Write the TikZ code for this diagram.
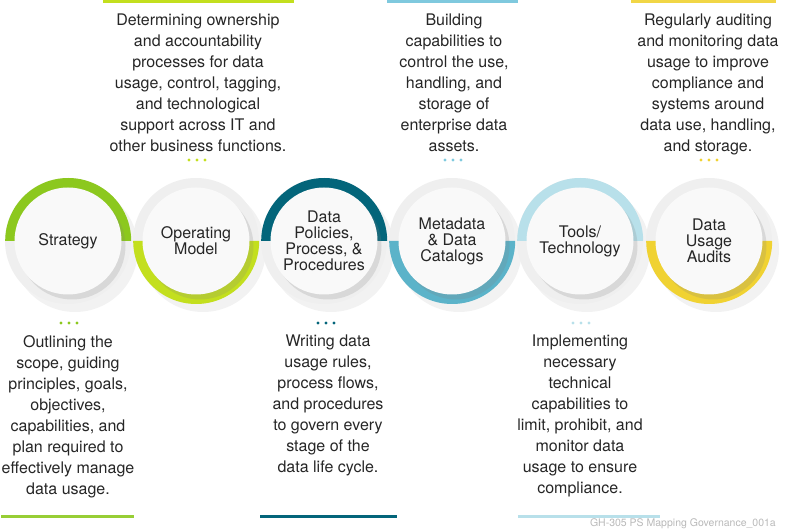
\documentclass[tikz,border=0pt]{standalone}
\usepackage{fontspec}
\setmainfont{TeX Gyre Heros}
\usetikzlibrary{shadows}

\definecolor{stratgreen}{HTML}{8CC81E}
\definecolor{limegreen}{HTML}{C3DF1E}
\definecolor{deepteal}{HTML}{03657A}
\definecolor{midteal}{HTML}{5BB3C9}
\definecolor{paleblue}{HTML}{B8E0EA}
\definecolor{barblue}{HTML}{7FC9DE}
\definecolor{audityellow}{HTML}{F0D232}
\definecolor{ringgray}{HTML}{EFEFEF}
\definecolor{facewhite}{HTML}{F9F9F9}
\definecolor{inkgray}{HTML}{262626}
\definecolor{notegray}{HTML}{B9B9B9}

\begin{document}
\begin{tikzpicture}[x=1pt,y=1pt,
  ring/.style={circle,minimum size=126pt,inner sep=0pt,fill=ringgray},
  face/.style={circle,minimum size=107pt,inner sep=0pt,fill=facewhite,
    align=center,text=inkgray,font=\fontsize{16}{16}\selectfont,
    drop shadow={shadow xshift=4pt,shadow yshift=-5pt,opacity=.2}},
  body/.style={align=center,inner sep=0pt,anchor=north,text=inkgray,
    font=\fontsize{16}{21}\selectfont},
  bar/.style={line width=3pt},
  dot/.style={circle,fill,inner sep=0pt,minimum size=3.2pt}]

\useasboundingbox (0,0) rectangle (800,530);

% soft shadows under the rings
\fill[black,opacity=.05] (75,281) circle (63);
\fill[black,opacity=.05] (203,281) circle (63);
\fill[black,opacity=.05] (331,281) circle (63);
\fill[black,opacity=.05] (459,281) circle (63);
\fill[black,opacity=.05] (587,281) circle (63);
\fill[black,opacity=.05] (716,281) circle (63);

% rings
\node[ring] (s1) at (68,289) {};
\node[ring] (s2) at (196,289) {};
\node[ring] (s3) at (324,289) {};
\node[ring] (s4) at (452,289) {};
\node[ring] (s5) at (580,289) {};
\node[ring] (s6) at (709,289) {};
\fill[stratgreen] (s1.east) arc[start angle=0,end angle=180,radius=63] -- cycle;
\fill[limegreen] (s2.east) arc[start angle=0,end angle=-180,radius=63] -- cycle;
\fill[deepteal] (s3.east) arc[start angle=0,end angle=180,radius=63] -- cycle;
\fill[midteal] (s4.east) arc[start angle=0,end angle=-180,radius=63] -- cycle;
\fill[paleblue] (s5.east) arc[start angle=0,end angle=180,radius=63] -- cycle;
\fill[audityellow] (s6.east) arc[start angle=0,end angle=-180,radius=63] -- cycle;

% faces
\node[face] (f1) at (s1) {Strategy};
\node[face] (f2) at (s2) {Operating\\Model};
\node[face] (f3) at (s3) {Data\\Policies,\\Process, \&\\Procedures};
\node[face] (f4) at (s4) {Metadata\\\& Data\\Catalogs};
\node[face] (f5) at (s5) {Tools/\\Technology};
\node[face] (f6) at (s6) {Data\\Usage\\Audits};

% top notes
\draw[bar,limegreen] (103,528) -- (294,528);
\draw[bar,barblue] (387,528) -- (518,528);
\draw[bar,audityellow!90!white] (631,528) -- (776,528);
\node[body] (t2) at (198,516) {Determining ownership\\and accountability\\processes for data\\usage, control, tagging,\\and technological\\support across IT and\\other business functions.};
\node[body] (t4) at (454,516) {Building\\capabilities to\\control the use,\\handling, and\\storage of\\enterprise data\\assets.};
\node[body] (t6) at (708,516) {Regularly auditing\\and monitoring data\\usage to improve\\compliance and\\systems around\\data use, handling,\\and storage.};
\node[dot,limegreen] (d2a) at (189,370) {};
\node[dot,limegreen] (d2b) at (197,370) {};
\node[dot,limegreen] (d2c) at (205,370) {};
\node[dot,barblue] (d4a) at (445,370) {};
\node[dot,barblue] (d4b) at (453,370) {};
\node[dot,barblue] (d4c) at (461,370) {};
\node[dot,audityellow] (d6a) at (701,370) {};
\node[dot,audityellow] (d6b) at (709,370) {};
\node[dot,audityellow] (d6c) at (717,370) {};

% bottom notes
\node[dot,stratgreen] (d1a) at (61,207) {};
\node[dot,stratgreen] (d1b) at (69,207) {};
\node[dot,stratgreen] (d1c) at (77,207) {};
\node[dot,deepteal] (d3a) at (318,207) {};
\node[dot,deepteal] (d3b) at (326,207) {};
\node[dot,deepteal] (d3c) at (334,207) {};
\node[dot,paleblue] (d5a) at (573,207) {};
\node[dot,paleblue] (d5b) at (581,207) {};
\node[dot,paleblue] (d5c) at (589,207) {};
\node[body] (b1) at (68,195) {Outlining the\\scope, guiding\\principles, goals,\\objectives,\\capabilities, and\\plan required to\\effectively manage\\data usage.};
\node[body] (b3) at (328,195) {Writing data\\usage rules,\\process flows,\\and procedures\\to govern every\\stage of the\\data life cycle.};
\node[body] (b5) at (580,195) {Implementing\\necessary\\technical\\capabilities to\\limit, prohibit, and\\monitor data\\usage to ensure\\compliance.};
\draw[bar,stratgreen!90!white] (1,14) -- (134,14);
\draw[bar,deepteal] (260,14) -- (397,14);
\draw[bar,paleblue] (518,14) -- (660,14);

\node[anchor=base east,inner sep=0pt,text=notegray,font=\fontsize{10.5}{12}\selectfont] (tag) at (776,4) {GH-305 PS Mapping Governance\_001a};
\end{tikzpicture}
\end{document}
